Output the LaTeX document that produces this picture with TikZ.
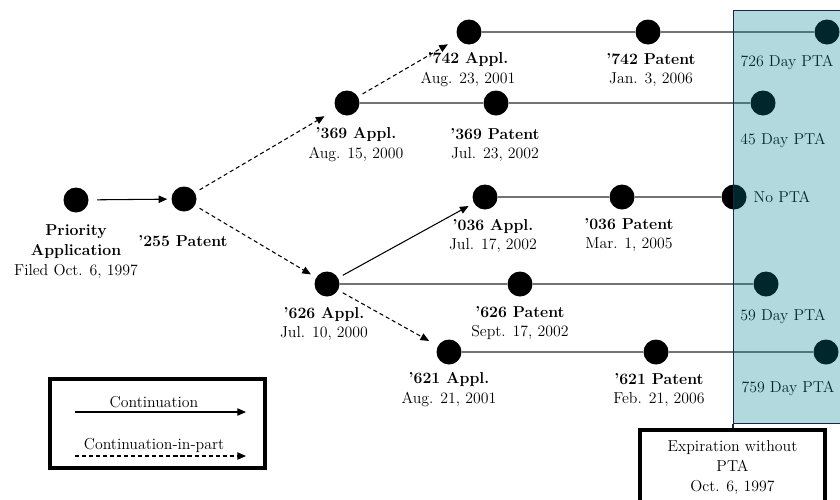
\documentclass[tikz,border=0pt]{standalone}
\usepackage{tikz}
\usetikzlibrary{arrows.meta,positioning,calc}
\definecolor{ptateal}{RGB}{0,131,145}
\definecolor{framenavy}{RGB}{25,40,70}
\tikzset{
  evdot/.style={circle, fill=black, inner sep=0pt, minimum size=0.75cm},
  lbl/.style={align=center, font=\fontsize{13.5}{17}\selectfont, inner sep=1pt},
  timeline/.style={draw=black!55, line width=1.3pt},
  contarrow/.style={-{Triangle[length=2.6mm, width=2.2mm]}, line width=0.9pt,
                    shorten <=1.6mm, shorten >=1.8mm},
  ciparrow/.style={contarrow, dash pattern=on 3.5pt off 2.5pt},
  thickframe/.style={draw, line width=3pt, inner sep=1pt},
  ptazone/.style={draw=framenavy, line width=0.9pt, fill=ptateal, fill opacity=0.3,
                  draw opacity=1},
  ptaframe/.style={draw=framenavy, line width=0.9pt},
}

\begin{document}
\begin{tikzpicture}[x=0.03cm, y=-0.03cm]
\useasboundingbox (0,0) rectangle (840,499);

% ================= events of the family =================
\node[evdot] (prio) at (76,200) {};
\node[evdot] (p255) at (184,199) {};
\node[evdot] (a369) at (347,103) {};
\node[evdot] (p369) at (496,103) {};
\node[evdot] (e369) at (763,103) {};
\node[evdot] (a742) at (469,32) {};
\node[evdot] (p742) at (648,32) {};
\node[evdot] (e742) at (827,32) {};
\node[evdot] (a036) at (485,197) {};
\node[evdot] (p036) at (622,197) {};
\node[evdot] (e036) at (734,197) {};
\node[evdot] (a626) at (327,284) {};
\node[evdot] (p626) at (520,284) {};
\node[evdot] (e626) at (766,284) {};
\node[evdot] (a621) at (449,352) {};
\node[evdot] (p621) at (656,352) {};
\node[evdot] (e621) at (826,352) {};

% timelines up to expiration
\draw[timeline] (a742) -- (p742) -- (e742);
\draw[timeline] (a369) -- (p369) -- (e369);
\draw[timeline] (a036) -- (p036) -- (e036);
\draw[timeline] (a626) -- (p626) -- (e626);
\draw[timeline] (a621) -- (p621) -- (e621);

% ================= labels =================
\node[lbl] (prioL) at (76,252) {\textbf{Priority}\\\textbf{Application}\\Filed Oct. 6, 1997};
\node[lbl] (p255L) at (183,241) {\textbf{'255 Patent}};
\node[lbl] (a369L) at (356,145) {\textbf{'369 Appl.}\\Aug. 15, 2000};
\node[lbl] (p369L) at (495,145) {\textbf{'369 Patent}\\Jul. 23, 2002};
\node[lbl] (a742L) at (468,70) {\textbf{'742 Appl.}\\Aug. 23, 2001};
\node[lbl] (p742L) at (651,70) {\textbf{'742 Patent}\\Jan. 3, 2006};
\node[lbl] (a036L) at (493,236) {\textbf{'036 Appl.}\\Jul. 17, 2002};
\node[lbl] (p036L) at (629,235) {\textbf{'036 Patent}\\Mar. 1, 2005};
\node[lbl] (a626L) at (324,324) {\textbf{'626 Appl.}\\Jul. 10, 2000};
\node[lbl] (p626L) at (520,323) {\textbf{'626 Patent}\\Sept. 17, 2002};
\node[lbl] (a621L) at (449,390) {\textbf{'621 Appl.}\\Aug. 21, 2001};
\node[lbl] (p621L) at (659,390) {\textbf{'621 Patent}\\Feb. 21, 2006};

\node[lbl] (e742L) at (787,62) {726 Day PTA};
\node[lbl] (e369L) at (783,140) {45 Day PTA};
\node[lbl] (e036L) at (782,197) {No PTA};
\node[lbl] (e626L) at (783,316) {59 Day PTA};
\node[lbl] (e621L) at (788,388) {759 Day PTA};

% ================= continuations =================
\draw[contarrow, shorten <=2.5mm, shorten >=1.2mm] (prio) -- (p255);
\draw[ciparrow, shorten >=4mm] (p255) -- (a369);
\draw[ciparrow, shorten >=3.5mm] (a369) -- (a742);
\draw[ciparrow] (p255) -- (a626);
\draw[contarrow] (a626) -- (a036);
\draw[ciparrow, shorten >=3mm] (a626) -- (a621);

% ================= PTA zone =================
\node[ptazone, anchor=north west, minimum width=3.9cm, minimum height=12.39cm] (zone) at (733,10) {};
\node[lbl, thickframe, minimum width=5.55cm, minimum height=2.25cm] (expire) at (732.5,467.5)
  {Expiration without\\PTA\\Oct. 6, 1997};
\draw[ptaframe] (zone.south west) -- (zone.south west |- expire.north);

% ================= legend =================
\node[thickframe, minimum width=6.45cm, minimum height=2.67cm] (legend) at (157.5,423.5) {};
\coordinate (contA) at (75,412);
\coordinate (contB) at (246,412);
\coordinate (cipA) at (75,456);
\coordinate (cipB) at (246,456);
\node[lbl] (contL) at (154,402) {Continuation};
\node[lbl] (cipL) at (154,445) {Continuation-in-part};
\draw[contarrow, shorten <=0pt, shorten >=0pt] (contA) -- (contB);
\draw[ciparrow, shorten <=0pt, shorten >=0pt] (cipA) -- (cipB);
\end{tikzpicture}
\end{document}
